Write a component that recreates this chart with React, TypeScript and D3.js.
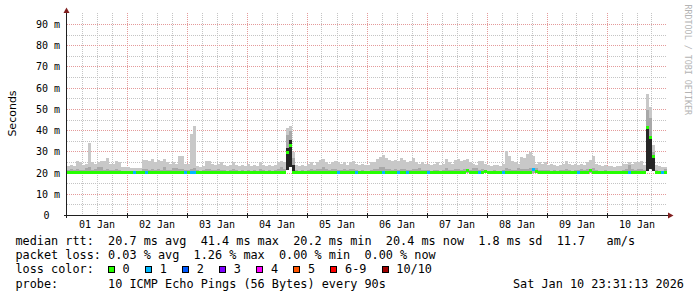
import React from 'react';
import * as d3 from 'd3';

// ---- data (one value per 72-minute column, 20 per day, 01 Jan .. 10 Jan) ----
const dayLabels = ['01 Jan', '02 Jan', '03 Jan', '04 Jan', '05 Jan', '06 Jan', '07 Jan', '08 Jan', '09 Jan', '10 Jan'];
const yTicks = [0, 10, 20, 30, 40, 50, 60, 70, 80, 90];

// upper edge of light smoke (max ping), ms
const smokeMax = [
  23.5, 24, 23.5, 25.5, 25, 24, 24.5, 34, 25, 24.5, 25, 25.5, 25.5, 27, 24.5, 24.5, 25.5, 25, 22.7, 22.7,
  22.7, 22.3, 22.3, 22.5, 22.3, 26, 26, 25.5, 26.5, 25, 26, 25.5, 26.5, 25, 24.5, 25, 24.5, 28, 28, 24.5,
  24.5, 38.5, 42, 23.5, 23, 23.5, 25.5, 25.5, 24.5, 24, 24.5, 25, 24, 23.5, 24, 25, 24, 23.5, 24, 23.5,
  24.5, 23.5, 24, 23.5, 25, 24, 23.5, 24, 23.5, 24, 25, 25.5, 25, 41, 42, 30, 24, 23.5, 24, 23.5,
  24.5, 25, 24, 25, 26, 26.5, 25, 24.5, 25, 25.5, 25, 24.5, 25, 24, 25, 25.5, 24.5, 24, 24.5, 24,
  24, 25, 25, 26.5, 27.5, 28.3, 27, 26, 25.5, 26, 25.5, 27, 26, 25, 25.5, 27, 25, 24.5, 25, 24.5,
  24.5, 24, 24.5, 25, 24, 24.5, 26.5, 25, 24.5, 26, 26.5, 25.5, 26, 26.5, 25, 24.5, 24, 25.5, 25.5, 24.5,
  24, 23.5, 24, 24, 23.5, 24.5, 30.6, 28, 25.5, 25, 24.5, 27.5, 27, 29, 30, 28, 24.5, 25, 24.5, 25,
  24, 24.5, 24, 23.5, 24, 24.5, 25.5, 24.5, 24, 24.5, 24, 24.5, 24, 25, 26, 28, 24.5, 24, 23.5, 24,
  23.5, 23.5, 23, 23.5, 23.5, 24.5, 24.5, 25, 24.5, 25, 25, 25.5, 24, 57.3, 51, 33, 24, 23.5, 23, 23,
];

// upper edge of the darker smoke band, ms
const smokeMid = [
  21.5, 21.8, 21.5, 22, 21.5, 21.5, 22.5, 23, 21.5, 21.8, 22.7, 22.7, 21.5, 22, 21.5, 21.5, 21.8, 21.5, 21.2, 21.2,
  21.2, 21, 21, 21.2, 21, 22, 21.8, 21.5, 22, 21.5, 21.8, 21.5, 22.7, 21.5, 21.5, 22.5, 22.5, 22, 21.8, 21.5,
  21.5, 22, 22.5, 21.5, 21.2, 21.5, 22, 21.8, 21.5, 21.5, 21.8, 21.5, 21.5, 21.2, 21.5, 21.8, 21.5, 21.2, 21.5, 21.2,
  21.5, 21.2, 21.5, 21.2, 21.8, 21.5, 21.2, 21.5, 21.2, 21.5, 22, 23, 22, 38, 39.6, 27, 21.5, 21.2, 21.5, 21.2,
  21.5, 21.8, 21.5, 21.8, 22, 22.7, 22, 21.5, 21.8, 22, 21.5, 21.5, 21.8, 21.5, 21.8, 22, 21.5, 21.2, 21.5, 21.2,
  21.2, 21.5, 21.8, 22, 22.7, 22.7, 22, 21.8, 21.5, 21.8, 21.5, 22, 21.8, 21.5, 21.5, 22, 21.8, 22.5, 21.5, 21.5,
  21.5, 21.2, 21.5, 21.5, 21.2, 21.5, 22.5, 21.5, 21.5, 22, 21.8, 21.5, 21.8, 22, 21.5, 22.5, 22.5, 21.5, 21.8, 21.5,
  21.2, 21.2, 21.5, 21.2, 21.2, 21.5, 22.5, 22, 21.5, 21.5, 22.5, 21.8, 22, 22, 22.5, 22, 22.5, 21.5, 21.5, 21.5,
  21.5, 21.2, 21.5, 21.2, 21.5, 21.5, 22, 21.5, 21.2, 21.5, 21.5, 21.8, 21.5, 21.8, 22, 22.5, 21.5, 21.2, 21.2, 21.5,
  21.2, 21.2, 21, 21.2, 21.2, 21.5, 22, 24, 21.8, 21.5, 21.8, 22, 21.5, 49.5, 46, 30, 21.5, 21.2, 21.2, 22,
];

// upper edge of the darkest (inner) smoke band, ms
const smokeInner = [
  20.1, 20.1, 20.1, 20.1, 20.1, 20.1, 20.1, 20.1, 20.1, 20.1, 20.1, 20.1, 20.1, 20.1, 20.1, 20.1, 20.1, 20.1, 20.1, 20.1,
  20.1, 20.1, 20.1, 20.1, 20.1, 20.1, 20.1, 20.1, 20.1, 20.1, 20.1, 20.1, 20.1, 20.1, 20.1, 20.1, 20.1, 20.1, 20.1, 20.1,
  20.1, 20.1, 20.1, 20.1, 20.1, 20.1, 20.1, 20.1, 20.1, 20.1, 20.1, 20.1, 20.1, 20.1, 20.1, 20.1, 20.1, 20.1, 20.1, 20.1,
  20.1, 20.1, 20.1, 20.1, 20.1, 20.1, 20.1, 20.1, 20.1, 20.1, 20.1, 20.1, 20.1, 32, 35.4, 24, 20.1, 20.1, 20.1, 20.1,
  20.1, 20.1, 20.1, 20.1, 20.1, 20.1, 20.1, 20.1, 20.1, 20.1, 20.1, 20.1, 20.1, 20.1, 20.1, 20.1, 20.1, 20.1, 20.1, 20.1,
  20.1, 20.1, 20.1, 20.1, 20.1, 20.1, 20.1, 20.1, 20.1, 20.1, 20.1, 20.1, 20.1, 20.1, 20.1, 20.1, 20.1, 20.1, 20.1, 20.1,
  20.1, 20.1, 20.1, 20.1, 20.1, 20.1, 20.1, 20.1, 20.1, 20.1, 20.1, 20.1, 20.1, 20.1, 20.1, 20.1, 20.1, 20.1, 20.1, 20.1,
  20.1, 20.1, 20.1, 20.1, 20.1, 20.1, 20.1, 20.1, 20.1, 20.1, 20.1, 20.1, 20.1, 20.1, 20.1, 20.1, 20.1, 20.1, 20.1, 20.1,
  20.1, 20.1, 20.1, 20.1, 20.1, 20.1, 20.1, 20.1, 20.1, 20.1, 20.1, 20.1, 20.1, 20.1, 20.1, 20.1, 20.1, 20.1, 20.1, 20.1,
  20.1, 20.1, 20.1, 20.1, 20.1, 20.1, 20.1, 20.1, 20.1, 20.1, 20.1, 20.1, 20.1, 41.3, 37, 28, 20.1, 20.1, 20.1, 20.1,
];

// lower edge of all smoke (min ping), ms
const smokeMin = [
  20.1, 20.1, 20.1, 20.1, 20.1, 20.1, 20.1, 20.1, 20.1, 20.1, 20.1, 20.1, 20.1, 20.1, 20.1, 20.1, 20.1, 20.1, 20.1, 20.1,
  20.1, 20.1, 20.1, 20.1, 20.1, 20.1, 20.1, 20.1, 20.1, 20.1, 20.1, 20.1, 20.1, 20.1, 20.1, 20.1, 20.1, 20.1, 20.1, 20.1,
  20.1, 20.1, 20.1, 20.1, 20.1, 20.1, 20.1, 20.1, 20.1, 20.1, 20.1, 20.1, 20.1, 20.1, 20.1, 20.1, 20.1, 20.1, 20.1, 20.1,
  20.1, 20.1, 20.1, 20.1, 20.1, 20.1, 20.1, 20.1, 20.1, 20.1, 20.1, 20.1, 20.1, 21.5, 22.8, 20.1, 20.1, 20.1, 20.1, 20.1,
  20.1, 20.1, 20.1, 20.1, 20.1, 20.1, 20.1, 20.1, 20.1, 20.1, 20.1, 20.1, 20.1, 20.1, 20.1, 20.1, 20.1, 20.1, 20.1, 20.1,
  20.1, 20.1, 20.1, 20.1, 20.1, 20.1, 20.1, 20.1, 20.1, 20.1, 20.1, 20.1, 20.1, 20.1, 20.1, 20.1, 20.1, 20.1, 20.1, 20.1,
  20.1, 20.1, 20.1, 20.1, 20.1, 20.1, 20.1, 20.1, 20.1, 20.1, 20.1, 20.1, 20.1, 20.1, 20.1, 20.1, 20.1, 20.1, 20.1, 20.1,
  20.1, 20.1, 20.1, 20.1, 20.1, 20.1, 20.1, 20.1, 20.1, 20.1, 20.1, 20.1, 20.1, 20.1, 20.1, 20.1, 20.1, 20.1, 20.1, 20.1,
  20.1, 20.1, 20.1, 20.1, 20.1, 20.1, 20.1, 20.1, 20.1, 20.1, 20.1, 20.1, 20.1, 20.1, 20.1, 20.1, 20.1, 20.1, 20.1, 20.1,
  20.1, 20.1, 20.1, 20.1, 20.1, 20.1, 20.1, 20.1, 20.1, 20.1, 20.1, 20.1, 20.1, 21.2, 21.8, 21, 20.1, 20.1, 20.1, 20.1,
];

// median rtt, ms
const median = [
  20.3, 20.3, 20.3, 20.3, 20.3, 20.3, 20.3, 20.3, 20.3, 20.3, 20.3, 20.3, 20.3, 20.3, 20.3, 20.3, 20.3, 20.3, 20.3, 20.3,
  20.3, 20.3, 20.1, 20.3, 20.3, 20.3, 20.3, 20.3, 20.3, 20.3, 20.3, 20.3, 20.3, 20.3, 20.3, 20.3, 20.3, 20.3, 20.3, 20.3,
  20.3, 20.3, 20.3, 20.3, 20.3, 20.3, 20.3, 20.3, 20.3, 20.3, 20.3, 20.3, 20.3, 20.3, 20.3, 20.3, 20.3, 20.3, 20.3, 20.3,
  20.3, 20.3, 20.3, 20.3, 20.3, 20.3, 20.3, 20.3, 20.3, 20.3, 20.3, 20.3, 20.3, 29.8, 33, 20.3, 20.1, 20.1, 20.1, 20.1,
  20.1, 20.1, 20.1, 20.3, 20.3, 20.3, 20.3, 20.3, 20.3, 20.3, 20.3, 20.3, 20.3, 20.3, 20.3, 20.3, 20.3, 20.3, 20.3, 20.3,
  20.3, 20.3, 20.3, 20.3, 20.3, 20.3, 20.3, 20.3, 20.3, 20.3, 20.3, 20.3, 20.3, 20.3, 20.3, 20.3, 20.3, 20.3, 20.3, 20.3,
  20.3, 20.3, 20.3, 20.3, 20.3, 20.3, 20.3, 20.3, 20.3, 20.3, 20.3, 20.3, 20.3, 21, 20.3, 20.3, 20.3, 20.3, 20.3, 20.8,
  20.3, 20.3, 20.3, 20.3, 20.3, 20.3, 20.3, 20.3, 20.3, 20.3, 20.3, 20.3, 20.3, 20.3, 20.3, 21.5, 20.9, 20.3, 20.3, 20.3,
  20.3, 20.3, 20.3, 20.3, 20.3, 20.3, 20.3, 20.3, 20.3, 20.3, 20.3, 20.3, 20.3, 20.3, 21, 20.3, 20.3, 20.3, 20.3, 20.3,
  20.3, 20.3, 20.3, 20.3, 20.3, 20.3, 20.3, 20.3, 20.3, 20.3, 20.3, 20.3, 20.3, 41.3, 36.9, 27.8, 20.3, 20.3, 20.3, 20.3,
];

// lost pings (of 10) per column
const loss = [
  0, 0, 0, 0, 0, 0, 0, 0, 0, 0, 0, 0, 0, 0, 0, 0, 0, 0, 0, 0,
  0, 0, 1, 0, 0, 0, 1, 0, 0, 0, 0, 0, 0, 0, 0, 0, 0, 0, 0, 1,
  0, 1, 1, 0, 0, 0, 0, 0, 0, 0, 0, 0, 0, 0, 0, 0, 0, 0, 0, 0,
  0, 0, 0, 0, 0, 0, 0, 0, 0, 0, 0, 0, 0, 0, 0, 0, 0, 0, 0, 0,
  0, 0, 0, 0, 0, 0, 0, 0, 0, 0, 1, 0, 0, 0, 0, 0, 1, 0, 0, 0,
  0, 0, 0, 0, 0, 1, 0, 0, 0, 0, 1, 0, 0, 1, 0, 0, 0, 0, 0, 0,
  1, 0, 0, 0, 0, 0, 0, 0, 0, 0, 0, 0, 0, 0, 0, 0, 0, 1, 0, 0,
  0, 0, 0, 0, 0, 1, 0, 0, 0, 0, 0, 0, 0, 0, 0, 1, 0, 0, 0, 0,
  0, 0, 0, 0, 0, 0, 0, 0, 0, 0, 1, 0, 0, 0, 0, 0, 0, 0, 0, 0,
  0, 0, 0, 0, 0, 0, 0, 1, 0, 0, 0, 0, 0, 0, 0, 0, 0, 0, 1, 0,
];

const lossLabels = ['0', '1', '2', '3', '4', '5', '6-9', '10/10'];
const lossColors = ['#26ff00', '#00b8ff', '#0059ff', '#7e00ff', '#ff00ff', '#ff5500', '#ff0000', '#a00000'];

const statLines = [
  'median rtt:  20.7 ms avg  41.4 ms max  20.2 ms min  20.4 ms now  1.8 ms sd  11.7   am/s',
  'packet loss: 0.03 % avg  1.26 % max  0.00 % min  0.00 % now',
];
const lossTitle = 'loss color:';
const probeLine = 'probe:       10 ICMP Echo Pings (56 Bytes) every 90s';
const dateText = 'Sat Jan 10 23:31:13 2026';
const yTitle = 'Seconds';
const watermark = 'RRDTOOL / TOBI OETIKER';

const START = Date.UTC(2026, 0, 1);
const END = Date.UTC(2026, 0, 11);
const STEP = 72 * 60 * 1000;

const MONO = "'DejaVu Sans Mono', monospace";
const CHAR = 7.12;
const PRE: React.CSSProperties = { whiteSpace: 'pre' };

function lossColor(l: number) {
  if (l <= 5) return lossColors[l];
  if (l < 10) return lossColors[6];
  return lossColors[7];
}

export default function App() {
  const x = d3.scaleUtc().domain([new Date(START), new Date(END)]).range([67, 667]);
  const y = d3.scaleLinear().domain([0, 90]).range([215.5, 24.5]);
  const yTop = 13;

  const cols = d3.range(smokeMax.length).map((i) => {
    const x0 = Math.round(x(new Date(START + i * STEP)));
    const x1 = Math.round(x(new Date(START + (i + 1) * STEP)));
    return { i, x0, w: x1 - x0 };
  });

  const band = (lo: number, hi: number) => {
    const t = Math.round(y(hi));
    const b = Math.round(y(lo));
    return { t, h: b - t };
  };

  const minorV = d3.utcHour.every(6)!.range(new Date(START), new Date(END)).filter((d) => d.getUTCHours() !== 0);
  const majorV = d3.utcDay.range(new Date(START + 86400000), new Date(END));
  const days = d3.utcDay.range(new Date(START), new Date(END));
  const minorH = d3.range(5, 90, 10);
  const majorH = yTicks.filter((v) => v > 0);

  const px = (v: number) => Math.floor(v) + 0.5;

  // legend boxes layout
  let bx = 108.3;
  const boxes = lossLabels.map((lab, k) => {
    const item = { lab, color: lossColors[k], x: bx };
    bx += 29.95 + lab.length * CHAR;
    return item;
  });

  return (
    <svg width={697} height={297} style={{ position: 'absolute', left: 0, top: 0, background: '#fff' }}>
      <rect x={0} y={0} width={697} height={297} fill="#fff" />
      {/* grid */}
      <g shapeRendering="crispEdges" strokeWidth={1} strokeDasharray="1,1">
        {minorH.map((v) => (
          <line key={'mh' + v} x1={67} x2={667} y1={px(y(v))} y2={px(y(v))} stroke="#c4c4c4" />
        ))}
        {minorV.map((d) => (
          <line key={'mv' + d.getTime()} x1={px(x(d))} x2={px(x(d))} y1={yTop} y2={215} stroke="#c4c4c4" />
        ))}
        {majorH.map((v) => (
          <line key={'Mh' + v} x1={67} x2={667} y1={px(y(v))} y2={px(y(v))} stroke="#e49a9a" />
        ))}
        {majorV.map((d) => (
          <line key={'Mv' + d.getTime()} x1={px(x(d))} x2={px(x(d))} y1={yTop} y2={215} stroke="#e49a9a" />
        ))}
      </g>

      {/* smoke */}
      <g shapeRendering="crispEdges">
        {cols.map(({ i, x0, w }) => {
          const a = band(smokeMin[i], smokeMax[i]);
          return a.h > 0 ? <rect key={'s1' + i} x={x0} y={a.t} width={w} height={a.h} fill="#c8c8c8" /> : null;
        })}
        {cols.map(({ i, x0, w }) => {
          const a = band(smokeMin[i], smokeMid[i]);
          return a.h > 0 ? <rect key={'s2' + i} x={x0} y={a.t} width={w} height={a.h} fill="#a8a8a8" /> : null;
        })}
        {cols.map(({ i, x0, w }) => {
          const a = band(smokeMin[i], smokeInner[i]);
          return a.h > 0 ? <rect key={'s3' + i} x={x0} y={a.t} width={w} height={a.h} fill="#262626" /> : null;
        })}
        {/* median boxes */}
        {cols.map(({ i, x0, w }) => {
          const yc = y(median[i]);
          const t = Math.round(yc - 1.5);
          return <rect key={'m' + i} x={x0} y={t} width={w} height={3} fill={lossColor(loss[i])} />;
        })}
      </g>

      {/* axes */}
      <g shapeRendering="crispEdges" stroke="#1f1f1f" strokeWidth={1}>
        <line x1={64} x2={669} y1={215.5} y2={215.5} />
        <line x1={66.5} x2={66.5} y1={218} y2={12} />
        {majorV.map((d) => (
          <line key={'tk' + d.getTime()} x1={px(x(d))} x2={px(x(d))} y1={213} y2={218} />
        ))}
      </g>
      <polygon points="668,212.5 668,218.5 673.5,215.5" fill="#801f1f" />
      <polygon points="63.5,13 69.5,13 66.5,7.5" fill="#801f1f" />

      {/* y tick labels */}
      <g fontFamily={MONO} fontSize={10} fill="#000">
        {yTicks.map((v) => (
          <text key={'yl' + v} x={v === 0 ? 49.5 : 60} y={y(v) + 3.5} textAnchor="end">
            {v === 0 ? '0' : `${v} m`}
          </text>
        ))}
        {days.map((d, k) => (
          <text key={'xl' + k} x={x(d3.utcHour.offset(d, 12))} y={227.5} textAnchor="middle">
            {dayLabels[k]}
          </text>
        ))}
      </g>

      {/* y title */}
      <text
        transform="translate(15.5,113.5) rotate(-90)"
        textAnchor="middle"
        fontFamily="'DejaVu Sans', sans-serif"
        fontSize={11}
        fill="#000"
      >
        {yTitle}
      </text>

      {/* watermark */}
      <text
        transform="translate(685,4.5) rotate(90)"
        fontFamily={MONO}
        fontSize={8.35}
        fill="#b4b4b4"
      >
        {watermark}
      </text>

      {/* legend */}
      <g fontFamily={MONO} fontSize={11.83} fill="#000">
        <text x={15.5} y={245} xmlSpace="preserve" style={PRE}>{statLines[0]}</text>
        <text x={15.5} y={259.2} xmlSpace="preserve" style={PRE}>{statLines[1]}</text>
        <text x={15.5} y={273.4} xmlSpace="preserve" style={PRE}>{lossTitle}</text>
        {boxes.map((b) => (
          <g key={'lg' + b.lab}>
            <rect
              x={Math.floor(b.x) + 0.5}
              y={266.5}
              width={6}
              height={6}
              fill={b.color}
              stroke="#000"
              strokeWidth={1}
              shapeRendering="crispEdges"
            />
            <text x={b.x + 14.3} y={273.4} xmlSpace="preserve" style={PRE}>{b.lab}</text>
          </g>
        ))}
        <text x={15.5} y={287.5} xmlSpace="preserve" style={PRE}>{probeLine}</text>
        <text x={513} y={287.5} xmlSpace="preserve" style={PRE}>{dateText}</text>
      </g>
    </svg>
  );
}
